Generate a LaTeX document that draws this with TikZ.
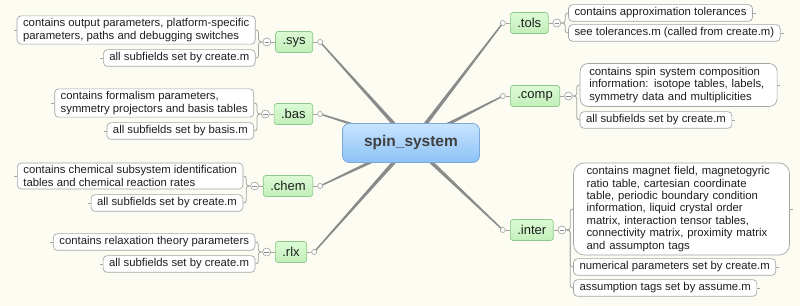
\documentclass[tikz,border=0pt]{standalone}
\usepackage{fontspec}
\setmainfont{Liberation Sans}
\usepackage{tikz}
\usetikzlibrary{calc,positioning,backgrounds}
\definecolor{MapPaper}{HTML}{FCFCF3}
\definecolor{MapLine}{HTML}{8A8A8A}
\definecolor{MapFrame}{HTML}{A4A4A4}
\definecolor{MapGreenTop}{HTML}{DCFAD5}
\definecolor{MapGreenBot}{HTML}{C2EFB9}
\definecolor{MapGreenEdge}{HTML}{8CC887}
\definecolor{MapBlueTop}{HTML}{C8E4FF}
\definecolor{MapBlueBot}{HTML}{8CC2F6}
\definecolor{MapBlueEdge}{HTML}{7AA8DA}
\definecolor{MapInk}{HTML}{1E1E1E}

\begin{document}
\begin{tikzpicture}[
    x=0.75pt, y=-0.75pt,
    rootbox/.style={draw=MapBlueEdge, line width=0.6pt, rounded corners=5pt,
                 top color=MapBlueTop, bottom color=MapBlueBot,
                 minimum width=102.75pt, minimum height=29.25pt,
                 font=\fontsize{11.6}{14}\selectfont\bfseries, text=MapInk!85},
    fieldbox/.style={draw=MapGreenEdge, line width=0.5pt, rounded corners=2pt,
                 top color=MapGreenTop, bottom color=MapGreenBot,
                 minimum height=15.75pt, inner xsep=5.25pt, inner ysep=0pt,
                 font=\fontsize{9.75}{11}\selectfont, text=MapInk},
    leafbox/.style={draw=MapFrame, line width=0.5pt, fill=white, rounded corners=3pt,
                 align=left, minimum height=12.5pt, inner xsep=4.5pt, inner ysep=2pt,
                 font=\fontsize{8.5}{9.3}\selectfont, text=MapInk},
    toggle/.style={circle, draw=MapFrame, fill=white, line width=0.5pt,
                 inner sep=0pt, minimum size=6pt,
                 path picture={\draw[MapLine, line width=0.5pt]
                   ([xshift=1.3pt]path picture bounding box.west) --
                   ([xshift=-1.3pt]path picture bounding box.east);}},
    joint/.style={circle, draw=MapFrame, fill=white, line width=0.5pt,
                 inner sep=0pt, minimum size=3.8pt},
    stub/.style={draw=MapFrame, line width=0.6pt},
    bracket/.style={stub, rounded corners=2pt},
    linkfill/.style={fill=MapLine}
]
\useasboundingbox (0,0) rectangle (800,306);

% root
\node[rootbox] (spin) at (411,143) {spin\_system};

% left fields
\node[fieldbox, anchor=east] (sys) at (313,42) {.sys};
\node[fieldbox, anchor=east] (bas) at (313,114) {.bas};
\node[fieldbox, anchor=east] (chem) at (313,186) {.chem};
\node[fieldbox, anchor=east] (rlx) at (307,252) {.rlx};
\foreach \f in {sys,bas,chem,rlx} {
  \node[toggle, left=3pt of \f] (\f-t) {};
  \node[joint, right=3.2pt of \f] (\f-j) {};
  \draw[stub] (\f-t) -- (\f);
  \draw[stub] (\f) -- (\f-j);
  \coordinate (\f-b) at ($(\f-t.west)+(-4,0)$);
}

% right fields
\node[fieldbox, anchor=west] (tols) at (510,23) {.tols};
\node[fieldbox, anchor=west] (comp) at (510,96) {.comp};
\node[fieldbox, anchor=west] (inter) at (510,230) {.inter};
\foreach \f in {tols,comp,inter} {
  \node[toggle, right=3pt of \f] (\f-t) {};
  \node[joint, left=3.2pt of \f] (\f-j) {};
  \draw[stub] (\f-t) -- (\f);
  \draw[stub] (\f) -- (\f-j);
  \coordinate (\f-b) at ($(\f-t.east)+(4,0)$);
}

% left leaves
\node[leafbox, anchor=east] (sys-d) at ($(sys-b |- 0,30)+(-3,0)$)
  {contains output parameters, platform-specific\\parameters, paths and debugging switches};
\node[leafbox, anchor=east] (sys-s) at ($(sys-b |- 0,58)+(-3,0)$) {all subfields set by create.m};
\node[leafbox, anchor=east] (bas-d) at ($(bas-b |- 0,103)+(-3,0)$)
  {contains formalism parameters,\\symmetry projectors and basis tables};
\node[leafbox, anchor=east] (bas-s) at ($(bas-b |- 0,131)+(-3,0)$) {all subfields set by basis.m};
\node[leafbox, anchor=east] (chem-d) at ($(chem-b |- 0,176)+(-3,0)$)
  {contains chemical subsystem identification\\tables and chemical reaction rates};
\node[leafbox, anchor=east] (chem-s) at ($(chem-b |- 0,203)+(-3,0)$) {all subfields set by create.m};
\node[leafbox, anchor=east] (rlx-d) at ($(rlx-b |- 0,242)+(-3,0)$) {contains relaxation theory parameters};
\node[leafbox, anchor=east] (rlx-s) at ($(rlx-b |- 0,264)+(-3,0)$) {all subfields set by create.m};

% right leaves
\node[leafbox, anchor=west] (tols-d) at ($(tols-b |- 0,13)+(3,0)$) {contains approximation tolerances};
\node[leafbox, anchor=west] (tols-s) at ($(tols-b |- 0,33)+(3,0)$) {see tolerances.m (called from create.m)};
\node[leafbox, anchor=west, rounded corners=6pt, inner xsep=6.9pt, text width=134pt,
      minimum height=32.25pt] (comp-d) at ($(comp-b |- 0,85)+(3,0)$)
  {contains spin system composition\\information: isotope tables, labels,\\symmetry data and multiplicities};
\node[leafbox, anchor=west] (comp-s) at ($(comp-b |- 0,120)+(3,0)$) {all subfields set by create.m};
\node[leafbox, anchor=west, rounded corners=8pt, inner xsep=9.75pt, text width=142.5pt,
      minimum height=69pt] (inter-d) at ($(inter-b |- 0,209)+(3,0)$)
  {contains magnet field, magnetogyric\\ratio table, cartesian coordinate\\table, periodic boundary condition\\information, liquid crystal order\\matrix, interaction tensor tables,\\connectivity matrix, proximity matrix\\and assumpton tags};
\node[leafbox, anchor=west] (inter-s1) at ($(inter-b |- 0,267)+(3,0)$) {numerical parameters set by create.m};
\node[leafbox, anchor=west] (inter-s2) at ($(inter-b |- 0,288)+(3,0)$) {assumption tags set by assume.m};

% brackets and stubs
\foreach \f/\l in {sys/sys-d,sys/sys-s,bas/bas-d,bas/bas-s,chem/chem-d,chem/chem-s,rlx/rlx-d,rlx/rlx-s} {
  \draw[bracket] (\f-t.west) -- (\f-b) |- (\l.east);
  \draw[stub] (\l.west) -- ++(-3,0);
}
\foreach \f/\l in {tols/tols-d,tols/tols-s,comp/comp-d,comp/comp-s,inter/inter-d,inter/inter-s1,inter/inter-s2} {
  \draw[bracket] (\f-t.east) -- (\f-b) |- (\l.west);
  \draw[stub] (\l.east) -- ++(3,0);
}

% tapered links behind the root
\begin{scope}[on background layer]
\fill[MapPaper] (0,0) rectangle (800,306);
\foreach \f in {sys,bas,chem,rlx,tols,comp,inter}
  \fill[linkfill] ($(spin.center)!1.6pt!90:(\f-j)$) -- ($(\f-j)!0.5pt!-90:(spin.center)$)
    -- ($(\f-j)!0.5pt!90:(spin.center)$) -- ($(spin.center)!1.6pt!-90:(\f-j)$) -- cycle;
\end{scope}
\end{tikzpicture}
\end{document}
